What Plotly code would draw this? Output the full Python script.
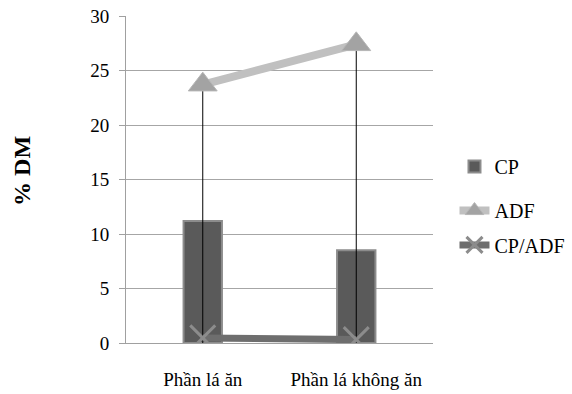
import plotly.graph_objects as go

categories = ["Phần lá ăn", "Phần lá không ăn"]
cp = [11.2, 8.5]
adf = [23.7, 27.4]
cp_adf = [0.47, 0.31]
y_ticks = [0, 5, 10, 15, 20, 25, 30]

serif = "Times New Roman, Liberation Serif, DejaVu Serif, serif"

fig = go.Figure()

fig.add_trace(go.Bar(
    x=categories, y=cp, name="CP", width=0.25,
    marker=dict(color="#5a5a5a", line=dict(color="#8c8c8c", width=2)),
    legend="legend",
))

# drop lines from the highest point of each category down to the axis
for cat, top in zip(categories, adf):
    fig.add_trace(go.Scatter(
        x=[cat, cat], y=[0, top], mode="lines",
        line=dict(color="black", width=1), showlegend=False, hoverinfo="skip",
    ))

fig.add_trace(go.Scatter(
    x=categories, y=adf, name="ADF", mode="lines+markers",
    line=dict(color="#c0c0c0", width=8),
    marker=dict(symbol="triangle-up", size=25, color="#a3a3a3",
                line=dict(color="#b5b5b5", width=1)),
    legend="legend2",
))

fig.add_trace(go.Scatter(
    x=categories, y=cp_adf, name="CP/ADF", mode="lines+markers",
    line=dict(color="#6e6e6e", width=7),
    marker=dict(symbol="x-thin", size=25, color="#8c8c8c",
                line=dict(color="#8c8c8c", width=3)),
    legend="legend3",
))

legend_common = dict(
    font=dict(family=serif, size=20, color="black"),
    bgcolor="rgba(0,0,0,0)", xanchor="left", yanchor="middle",
    itemwidth=30,
)

fig.update_layout(
    width=572, height=394,
    margin=dict(l=126, r=139, t=16, b=51, autoexpand=False),
    paper_bgcolor="white", plot_bgcolor="white",
    bargap=0.75,
    font=dict(family=serif, size=19, color="black"),
    xaxis=dict(
        showgrid=False, showline=True, linecolor="#a0a0a0",
        ticks="", tickfont=dict(family=serif, size=19),
        ticklabelstandoff=19, automargin=False,
    ),
    yaxis=dict(
        range=[0, 30], tickvals=y_ticks, showgrid=True, gridcolor="#a6a6a6",
        gridwidth=1, showline=True, linecolor="#a0a0a0", ticks="outside",
        ticklen=6, tickcolor="#a0a0a0", zeroline=False,
        tickfont=dict(family=serif, size=19), ticklabelstandoff=6,
        automargin=False,
    ),
    annotations=[dict(
        text="<b>% DM</b>", textangle=-90, showarrow=False,
        xref="paper", yref="paper", x=-0.339, y=0.526,
        xanchor="center", yanchor="middle",
        font=dict(family=serif, size=24, color="black"),
    )],
    legend=dict(x=1.07, y=0.54, **legend_common),
    legend2=dict(x=1.07, y=0.405, **legend_common),
    legend3=dict(x=1.07, y=0.30, **legend_common),
)

fig.write_html("out.html")
